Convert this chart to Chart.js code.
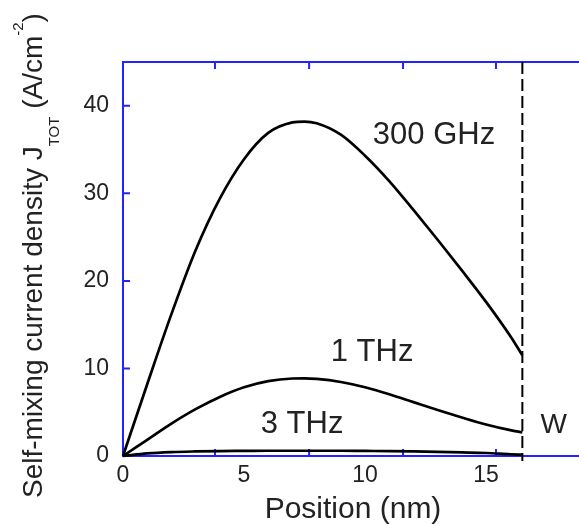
<!DOCTYPE html>
<html>
<head>
<meta charset="utf-8">
<script src="https://cdn.jsdelivr.net/npm/chart.js@4"></script>
<style>
html, body { margin: 0; padding: 0; background: #fff; overflow: hidden; }
#wrap { width: 579px; height: 524px; }
</style>
</head>
<body>
<div id="wrap"><canvas id="chart" width="579" height="524"></canvas></div>
<script>
'use strict';

// Position through the device (nm)
var positionNm = [0, 1, 2, 3, 4, 5, 6, 7, 7.5, 8, 9, 10, 11, 12, 13, 14, 15, 16, 16.5];

// Self-mixing current density J_TOT (A/cm^-2) per frequency
var jTot300GHz = [0, 8.2, 16.2, 23.5, 29.4, 33.9, 36.9, 38.1, 38.2, 38.0, 36.7, 34.3, 31.4, 28.1, 24.7, 21.2, 17.6, 13.7, 11.5];
var jTot1THz = [0, 1.85, 3.7, 5.35, 6.75, 7.85, 8.55, 8.85, 8.87, 8.8, 8.45, 7.85, 7.05, 6.15, 5.25, 4.4, 3.6, 2.95, 2.7];
var jTot3THz = [0, 0.3, 0.45, 0.52, 0.56, 0.58, 0.6, 0.6, 0.6, 0.6, 0.6, 0.58, 0.56, 0.52, 0.47, 0.41, 0.34, 0.2, 0.15];

var seriesNames = ['300 GHz', '1 THz', '3 THz'];

// axis labels and the extra tick marks on the frame
var xTickLabels = [0, 5, 10, 15];
var yTickLabels = [0, 10, 20, 30, 40];
var xTickMarks = [3.8, 7.69, 11.57, 15.41];
var yTickMarks = [10, 20, 30, 40];

// device width W (nm), dashed marker
var widthW = 16.5;

var FONT = '"Liberation Sans", Arial, Helvetica, sans-serif';
var BLUE = '#2323ff';
var TEXT = '#222';

function toPoints(values) {
	return positionNm.map(function (x, i) {
		return { x: x, y: values[i] };
	});
}

function curve(label, values) {
	return {
		label: label,
		data: toPoints(values),
		borderColor: '#000',
		borderWidth: 2.7,
		pointRadius: 0,
		fill: false,
		cubicInterpolationMode: 'monotone',
		clip: false
	};
}

// blue frame (top, left, bottom), inward ticks and the dashed W line
var framePlugin = {
	id: 'frame',
	beforeDatasetsDraw: function (chart) {
		var ctx = chart.ctx,
			area = chart.chartArea,
			xs = chart.scales.x,
			ys = chart.scales.y,
			right = chart.width;

		ctx.save();
		ctx.strokeStyle = BLUE;
		ctx.lineWidth = 2;
		ctx.beginPath();
		ctx.moveTo(right, area.top);
		ctx.lineTo(area.left, area.top);
		ctx.lineTo(area.left, area.bottom);
		ctx.lineTo(right, area.bottom);
		ctx.stroke();

		ctx.beginPath();
		xTickMarks.forEach(function (v) {
			var px = xs.getPixelForValue(v);
			ctx.moveTo(px, area.bottom);
			ctx.lineTo(px, area.bottom - 7);
			ctx.moveTo(px, area.top);
			ctx.lineTo(px, area.top + 7);
		});
		yTickMarks.forEach(function (v) {
			var py = ys.getPixelForValue(v);
			ctx.moveTo(area.left, py);
			ctx.lineTo(area.left + 7, py);
		});
		ctx.stroke();

		var wx = xs.getPixelForValue(widthW);
		ctx.strokeStyle = '#000';
		ctx.lineWidth = 2;
		ctx.setLineDash([12, 5]);
		ctx.beginPath();
		ctx.moveTo(wx, area.top);
		ctx.lineTo(wx, area.bottom + 5);
		ctx.stroke();
		ctx.restore();
	}
};

// axis titles and curve labels
var textPlugin = {
	id: 'texts',
	afterDraw: function (chart) {
		var ctx = chart.ctx,
			xs = chart.scales.x,
			ys = chart.scales.y;

		ctx.save();
		ctx.fillStyle = TEXT;
		ctx.textBaseline = 'alphabetic';

		// curve labels, placed in data units
		ctx.textAlign = 'center';
		ctx.font = '31px ' + FONT;
		ctx.fillText(seriesNames[0], xs.getPixelForValue(12.85), ys.getPixelForValue(35.6));
		ctx.fillText(seriesNames[1], xs.getPixelForValue(10.29), ys.getPixelForValue(10.85));
		ctx.fillText(seriesNames[2], xs.getPixelForValue(7.4), ys.getPixelForValue(2.63));
		ctx.font = '28px ' + FONT;
		ctx.fillText('W', xs.getPixelForValue(17.8), ys.getPixelForValue(2.63));

		// x title
		ctx.font = '30px ' + FONT;
		ctx.fillText('Position (nm)', 353, 518);

		// y title with subscript and superscript
		var parts = [
			{ text: 'Self-mixing current density J', size: 28, shift: 0 },
			{ text: 'TOT', size: 15, shift: 17 },
			{ text: ' (A/cm', size: 28, shift: 0 },
			{ text: '-2', size: 15, shift: -19 },
			{ text: ')', size: 28, shift: 0 }
		];
		ctx.translate(42, 498);
		ctx.rotate(-Math.PI / 2);
		ctx.textAlign = 'left';
		var pos = 0;
		parts.forEach(function (p) {
			ctx.font = p.size + 'px ' + FONT;
			ctx.fillText(p.text, pos, p.shift);
			pos += ctx.measureText(p.text).width;
		});
		ctx.restore();
	}
};

new Chart(document.getElementById('chart'), {
	type: 'line',
	data: {
		datasets: [
			curve(seriesNames[0], jTot300GHz),
			curve(seriesNames[1], jTot1THz),
			curve(seriesNames[2], jTot3THz)
		]
	},
	options: {
		responsive: false,
		animation: false,
		layout: { padding: { top: 62, left: 0, right: 0, bottom: 0 } },
		plugins: {
			legend: { display: false },
			tooltip: { enabled: false }
		},
		scales: {
			x: {
				type: 'linear',
				min: 0,
				max: 18.84,
				grid: { display: false, drawTicks: false },
				border: { display: false },
				afterBuildTicks: function (scale) {
					scale.ticks = xTickLabels.map(function (v) { return { value: v }; });
				},
				afterFit: function (scale) { scale.height = 68; },
				ticks: {
					font: { family: FONT, size: 23 },
					color: TEXT,
					padding: 6,
					maxRotation: 0,
					autoSkip: false
				}
			},
			y: {
				min: 0,
				max: 45,
				grid: { display: false, drawTicks: false },
				border: { display: false },
				afterBuildTicks: function (scale) {
					scale.ticks = yTickLabels.map(function (v) { return { value: v }; });
				},
				afterFit: function (scale) { scale.width = 123; },
				ticks: {
					font: { family: FONT, size: 23 },
					color: TEXT,
					padding: 14,
					autoSkip: false
				}
			}
		}
	},
	plugins: [framePlugin, textPlugin]
});
</script>
</body>
</html>
